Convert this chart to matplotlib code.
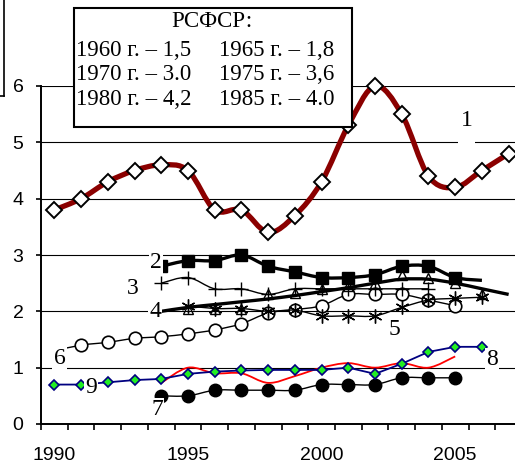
import numpy as np
import matplotlib
matplotlib.use("Agg")
import matplotlib.pyplot as plt
from matplotlib.path import Path
from matplotlib.patches import PathPatch, Rectangle
from matplotlib.lines import Line2D

# --- data ---
years1 = list(range(1990, 2008))
line1 = [3.8, 4.0, 4.3, 4.5, 4.6, 4.5, 3.8, 3.8, 3.4, 3.7, 4.3, 5.3, 6.0, 5.5, 4.4, 4.2, 4.5, 4.8]

years2 = list(range(1994, 2007))
line2 = [2.8, 2.9, 2.9, 3.0, 2.8, 2.7, 2.6, 2.6, 2.65, 2.8, 2.8, 2.6, 2.55]

years3 = list(range(1994, 2005))
line3 = [2.5, 2.6, 2.4, 2.4, 2.3, 2.4, 2.4, 2.4, 2.4, 2.4, 2.4]

years4 = list(range(1994, 2007))
line4 = [2.0, 2.05, 2.05, 2.05, 2.3, 2.33, 2.4, 2.45, 2.5, 2.65, 2.6, 2.5, 2.3]
years4t = list(range(1994, 2008))
line4t = [2.0, 2.07, 2.12, 2.17, 2.22, 2.28, 2.35, 2.42, 2.5, 2.57, 2.57, 2.5, 2.4, 2.3]

years5 = list(range(1995, 2007))
line5 = [2.1, 2.05, 2.05, 2.0, 2.02, 1.92, 1.92, 1.92, 2.07, 2.2, 2.23, 2.25]

years6 = list(range(1990, 2006))
line6 = [1.3, 1.4, 1.45, 1.52, 1.55, 1.6, 1.67, 1.78, 1.97, 2.03, 2.1, 2.3, 2.3, 2.3, 2.2, 2.1]

years7 = list(range(1994, 2006))
line7 = [0.5, 0.5, 0.6, 0.6, 0.6, 0.6, 0.7, 0.7, 0.7, 0.82, 0.82, 0.82]

years8 = list(range(1994, 2006))
line8 = [0.73, 1.0, 0.9, 0.9, 0.73, 0.85, 1.0, 1.08, 1.0, 1.08, 1.0, 1.2]

years9 = list(range(1990, 2007))
line9 = [0.7, 0.7, 0.74, 0.78, 0.8, 0.89, 0.93, 0.95, 0.96, 0.96, 0.96, 1.0, 0.89, 1.07, 1.28, 1.37, 1.37]

tick_years = [1990, 1995, 2000, 2005]
box_title = "РСФСР:"
box_col1 = ["1960 г. – 1,5", "1970 г. – 3.0", "1980 г. – 4,2"]
box_col2 = ["1965 г. – 1,8", "1975 г. – 3,6", "1985 г. – 4.0"]

labels = ["1", "2", "3", "4", "5", "6", "7", "8", "9"]
label_pos = [(2005.43, 5.38), (1993.8, 2.86), (1992.94, 2.41), (1993.77, 2.0),
             (2002.74, 1.67), (1990.2, 1.17), (1993.84, 0.25), (2006.37, 1.14),
             (1991.37, 0.64)]

W, H = 515, 466
fig = plt.figure(figsize=(W / 100, H / 100), dpi=100)
ax = fig.add_axes([41 / W, (H - 424) / H, 481 / W, 338 / H])
ax.set_xlim(1989.5, 2007.5)
ax.set_ylim(0, 6)


def smooth(x, y):
    pts = np.column_stack([x, y]).astype(float)
    n = len(pts)
    verts = [pts[0]]
    codes = [Path.MOVETO]
    for i in range(n - 1):
        p0 = pts[i - 1] if i > 0 else pts[i]
        p1, p2 = pts[i], pts[i + 1]
        p3 = pts[i + 2] if i + 2 < n else pts[i + 1]
        verts += [p1 + (p2 - p0) / 6, p2 - (p3 - p1) / 6, p2]
        codes += [Path.CURVE4] * 3
    return Path(verts, codes)


def curve(x, y, color, lw, z):
    ax.add_patch(PathPatch(smooth(x, y), fill=False, ec=color, lw=lw,
                           zorder=z, clip_on=False, capstyle="butt"))


# line 6: open circles
curve(years6, line6, "black", 1.0, 3)
ax.plot(years6[1:], line6[1:], ls="none", marker="o", ms=9, mfc="white",
        mec="black", mew=1.2, zorder=3.1, clip_on=False)

# line 7: filled circles
curve(years7, line7, "black", 1.0, 3)
ax.plot(years7, line7, ls="none", marker="o", ms=9, mfc="black",
        mec="black", zorder=3.1, clip_on=False)

# line 8: red
curve(years8, line8, "red", 1.3, 3.2)

# line 9: navy with green diamonds
ax.plot(years9, line9, color="#000080", lw=1.3, marker="D", ms=5,
        mfc="#22ee22", mec="#000080", mew=1.2, zorder=3.3, clip_on=False)

# line 5: asterisks
curve(years5, line5, "black", 1.0, 3.4)
ax.plot(years5, line5, ls="none", marker=(6, 2, 0), ms=10, mec="black",
        mew=1.0, zorder=3.4, clip_on=False)

# line 4: triangles + thick line
curve(years4t, line4t, "black", 2.4, 3.5)
ax.plot(years4[1:], line4[1:], ls="none", marker="^", ms=7, mfc="none",
        mec="black", mew=1.0, zorder=3.5, clip_on=False)

# line 3: plus
curve(years3, line3, "black", 1.0, 3.6)
ax.plot(years3, line3, ls="none", marker="+", ms=10, mec="black",
        mew=1.0, zorder=3.6, clip_on=False)

# line 2: filled squares + thick line
curve(years2, line2, "black", 2.4, 3.7)
ax.plot(years2[:-1], line2[:-1], ls="none", marker="s", ms=8, mfc="black",
        mec="black", zorder=3.7, clip_on=False)

# line 1: dark red smooth with diamonds
curve(years1, line1, "#8b0000", 3.8, 4)
ax.plot(years1, line1, ls="none", marker="D", ms=8, mfc="white",
        mec="black", mew=1.4, zorder=4.1, clip_on=False)

# axes styling
for s in ["top", "right"]:
    ax.spines[s].set_visible(False)
ax.spines["left"].set_linewidth(1.4)
ax.spines["bottom"].set_linewidth(1.4)
ax.set_yticks(range(0, 7))
ax.yaxis.grid(True, color="black", lw=0.8)
ax.set_axisbelow(True)
ax.tick_params(axis="y", direction="out", length=3.6, width=1.2, pad=9,
               labelsize=14)
ax.set_xticks(np.arange(1989.5, 2008, 1))
ax.set_xticklabels([])
ax.tick_params(axis="x", which="major", direction="out", length=4.5, width=1.2)
ax.set_xticks(tick_years, minor=True)
ax.set_xticklabels([str(y) for y in tick_years], minor=True)
ax.tick_params(axis="x", which="minor", length=0, pad=16.5, labelsize=14)
for t in ax.get_xticklabels(minor=True) + ax.get_yticklabels():
    t.set_family("Liberation Sans")

# white gap behind label "1" (it cuts the gridline at 5)
ax.add_patch(Rectangle((2005.12, 4.95), 0.62, 0.5, fc="white", ec="none",
                       zorder=5))

# number labels
for lab, (x, y) in zip(labels, label_pos):
    ax.text(x, y, lab, ha="center", va="center", fontsize=17,
            family="Liberation Serif", zorder=6,
            bbox=dict(fc="white", ec="none", pad=1.0))

# RSFSR box
fig.add_artist(Rectangle((74 / W, 1 - 127 / H), 278 / W, 119 / H,
                         transform=fig.transFigure, fc="white", ec="black",
                         lw=1.5, zorder=10))
fig.text(212 / W, 1 - 27 / H, box_title, ha="center", va="baseline",
         fontsize=16.5, family="Liberation Serif", zorder=11)
for i, (a, b) in enumerate(zip(box_col1, box_col2)):
    yb = 1 - (56 + i * 24.5) / H
    fig.text(76 / W, yb, a, ha="left", va="baseline", fontsize=16.5,
             family="Liberation Serif", zorder=11)
    fig.text(219 / W, yb, b, ha="left", va="baseline", fontsize=16.5,
             family="Liberation Serif", zorder=11)

# frame remnant at the top-left corner
fig.add_artist(Line2D([4 / W, 4 / W], [1, 1 - 96 / H], color="black", lw=1.2))
fig.add_artist(Line2D([0, 4 / W], [1 - 96 / H, 1 - 96 / H], color="black", lw=1.2))

fig.savefig("out.png", dpi=100)
